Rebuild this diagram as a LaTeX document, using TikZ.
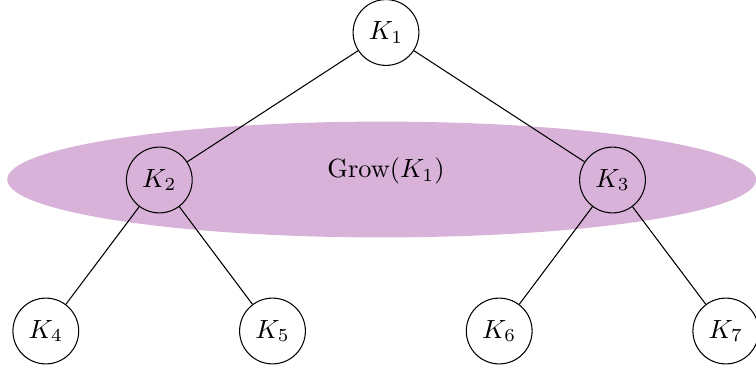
\documentclass[tikz,border=0pt]{standalone}
\begin{document}
\begin{tikzpicture}[x=0.38pt,y=-0.38pt,
  knode/.style={circle,draw,minimum size=25pt,inner sep=0pt},
  edge/.style={draw,line width=0.4pt}]
\useasboundingbox (0,0) rectangle (756,375);
\fill[violet!30] (381.7,179.5) ellipse [x radius=142.3pt, y radius=22pt];
\node[knode] (k1) at (386,32.5) {$K_1$};
\node[knode] (k2) at (159.3,180) {$K_2$};
\node[knode] (k3) at (612.5,180) {$K_3$};
\node[knode] (k4) at (45.8,331) {$K_4$};
\node[knode] (k5) at (272.5,331) {$K_5$};
\node[knode] (k6) at (499.2,331) {$K_6$};
\node[knode] (k7) at (725.8,331) {$K_7$};
\node (grow) at (386,171) {Grow$(K_1)$};
\draw[edge] (k1) -- (k2);
\draw[edge] (k1) -- (k3);
\draw[edge] (k2) -- (k4);
\draw[edge] (k2) -- (k5);
\draw[edge] (k3) -- (k6);
\draw[edge] (k3) -- (k7);
\end{tikzpicture}
\end{document}
